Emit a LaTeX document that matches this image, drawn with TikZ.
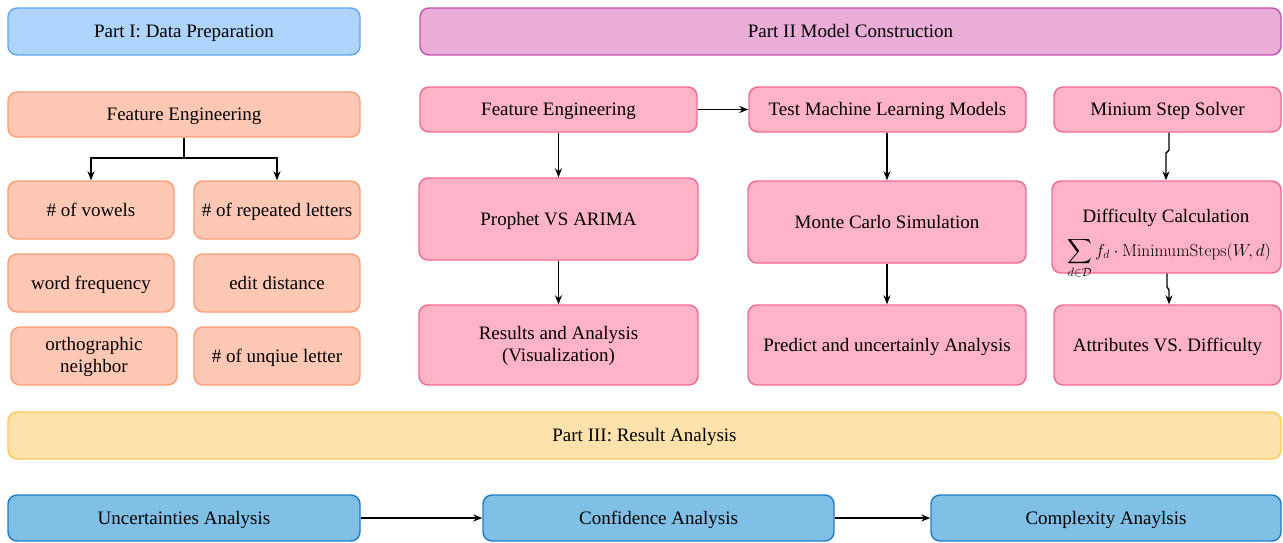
\documentclass[tikz,border=0pt]{standalone}
\usepackage{amsmath}
\usepackage[no-math]{fontspec}
\setmainfont{Liberation Serif}
\usetikzlibrary{arrows.meta}
\definecolor{blueF}{HTML}{AFD4FB}
\definecolor{blueD}{HTML}{5DA8F0}
\definecolor{purpF}{HTML}{E9ADD7}
\definecolor{purpD}{HTML}{C24FB1}
\definecolor{salF}{HTML}{FFC8B5}
\definecolor{salD}{HTML}{FF9C74}
\definecolor{pinkF}{HTML}{FFB3C7}
\definecolor{pinkD}{HTML}{F06A8E}
\definecolor{yelF}{HTML}{FDE2AC}
\definecolor{yelD}{HTML}{FFC957}
\definecolor{skyF}{HTML}{80BFE6}
\definecolor{skyD}{HTML}{1E7BC9}
\tikzset{
  box/.style={draw, rounded corners=9pt, line width=1.4pt, inner sep=0pt,
    align=center, font=\fontsize{19}{22}\selectfont, text=black,
    text height=14.6pt, text depth=2pt},
  twoline/.style={text height=35.4pt, text depth=2pt},
  header/.style={box},
  conn/.style={line width=1.4pt, -{Stealth[length=9pt,width=7pt]}},
}
% box with given corners (in pixels, y downwards)
\newcommand\pbox[7]{%
  \node[#1, minimum width={#4-#2}, minimum height={#5-#3}]
    (#6) at ({(#2+#4)/2},{(#3+#5)/2}) {#7};}
\begin{document}
\begin{tikzpicture}[x=1pt,y=-1pt]
\useasboundingbox (0,0) rectangle (1283,543);

% section headers
\pbox{header, fill=blueF, draw=blueD}{8}{8}{360}{55}{p1}{Part I: Data Preparation}
\pbox{header, fill=purpF, draw=purpD}{420}{8}{1281}{55}{p2}{Part II Model Construction}
\pbox{header, fill=yelF, draw=yelD}{8}{412}{1281}{459}{p3}{Part III: Result Analysis}

% part I: features
\pbox{box, fill=salF, draw=salD}{8}{92}{360}{137}{fe1}{Feature Engineering}
\pbox{box, fill=salF, draw=salD}{8}{181}{174}{239}{vow}{\# of vowels}
\pbox{box, fill=salF, draw=salD}{194}{181}{360}{239}{rep}{\# of repeated letters}
\pbox{box, fill=salF, draw=salD}{8}{254}{174}{312}{freq}{word frequency}
\pbox{box, fill=salF, draw=salD}{194}{254}{360}{312}{edit}{edit distance}
\pbox{box, twoline, fill=salF, draw=salD}{11}{327}{177}{385}{orth}{orthographic\\neighbor}
\pbox{box, fill=salF, draw=salD}{194}{327}{360}{385}{uniq}{\# of unqiue letter}

\coordinate (split) at (184,158);
\draw[line width=1.4pt] (fe1.south -| split) -- (split);
\draw[conn] (split) -| (vow.north -| 91,0);
\draw[conn] (split) -| (rep.north -| 277,0);

% part II: models
\pbox{box, fill=pinkF, draw=pinkD}{420}{87}{697}{132}{fe2}{Feature Engineering}
\pbox{box, fill=pinkF, draw=pinkD}{749}{87}{1026}{132}{tml}{Test Machine Learning Models}
\pbox{box, fill=pinkF, draw=pinkD}{1054}{87}{1281}{132}{mss}{Minium Step Solver}
\pbox{box, fill=pinkF, draw=pinkD}{419}{178}{698}{260}{pva}{Prophet VS ARIMA}
\pbox{box, fill=pinkF, draw=pinkD}{748}{181}{1026}{263}{mcs}{Monte Carlo Simulation}
\pbox{box, fill=pinkF, draw=pinkD}{1052}{181}{1281}{273}{dc}{}
\pbox{box, twoline, fill=pinkF, draw=pinkD}{419}{305}{698}{385}{ra}{Results and Analysis\\(Visualization)}
\pbox{box, fill=pinkF, draw=pinkD}{748}{305}{1026}{385}{pua}{Predict and uncertainly Analysis}
\pbox{box, fill=pinkF, draw=pinkD}{1054}{305}{1281}{385}{avd}{Attributes VS. Difficulty}

\node[font=\fontsize{19}{22}\selectfont, inner sep=0pt, anchor=base] (dct) at (1166,222) {Difficulty Calculation};
\node[inner sep=0pt, anchor=base west, font=\fontsize{16.5}{19}\selectfont] (dcf) at (1067,256)
  {$\displaystyle\sum_{d\in\mathcal{D}} f_d\cdot\mathrm{MinimumSteps}(W,d)$};

\draw[conn] (fe2) -- (tml);
\draw[conn] (fe2) -- (pva);
\draw[conn] (pva) -- (ra);
\draw[conn] (tml.south -| 887,0) -- (mcs.north -| 887,0);
\draw[conn] (mcs.south -| 887,0) -- (pua.north -| 887,0);
\coordinate (j1) at (1169,150);
\coordinate (j2) at (1166,153);
\draw[conn] (mss.south -| j1) -- (j1) -- (j2) -- (dc.north -| j2);
\coordinate (j3) at (1167,287);
\coordinate (j4) at (1169,290);
\draw[conn] (dc.south -| j3) -- (j3) -- (j4) -- (avd.north -| j4);

% part III: analysis chain
\pbox{box, fill=skyF, draw=skyD}{8}{495}{360}{541}{ua}{Uncertainties Analysis}
\pbox{box, fill=skyF, draw=skyD}{483}{495}{834}{541}{ca}{Confidence Analysis}
\pbox{box, fill=skyF, draw=skyD}{931}{495}{1281}{541}{cxa}{Complexity Anaylsis}
\draw[conn] (ua) -- (ca);
\draw[conn] (ca) -- (cxa);
\end{tikzpicture}
\end{document}
